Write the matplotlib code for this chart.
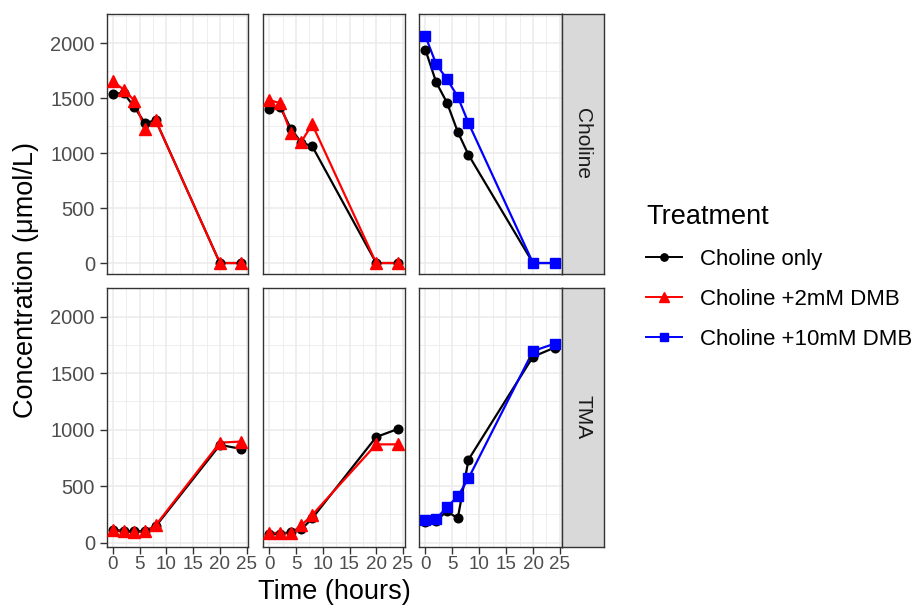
import matplotlib
matplotlib.use("Agg")
import matplotlib.pyplot as plt
from matplotlib.lines import Line2D

plt.rcParams["font.family"] = ["Liberation Sans", "DejaVu Sans"]

# sampling times (hours)
times = [0, 2, 4, 6, 8, 20, 24]
row_names = ["Choline", "TMA"]
treatments = ["Choline only", "Choline +2mM DMB", "Choline +10mM DMB"]

# Choline row, one list per panel (left -> right)
chol_only_choline = [
    [1540, 1550, 1420, 1275, 1300, 0, 0],
    [1405, 1420, 1225, 1095, 1065, 0, 0],
    [1940, 1645, 1460, 1195, 985, 0, 0],
]
dmb2_choline = [
    [1655, 1580, 1480, 1220, 1300, 0, 0],
    [1485, 1455, 1180, 1105, 1265, 0, 0],
]
dmb10_choline = [2065, 1810, 1675, 1515, 1275, 0, 0]

# TMA row
chol_only_tma = [
    [115, 105, 100, 105, 145, 865, 830],
    [80, 78, 95, 120, 215, 935, 1005],
    [185, 195, 280, 215, 735, 1645, 1725],
]
dmb2_tma = [
    [110, 100, 95, 100, 155, 885, 895],
    [88, 85, 82, 155, 245, 870, 870],
]
dmb10_tma = [200, 212, 315, 410, 570, 1695, 1760]

colors = {"Choline only": "black", "Choline +2mM DMB": "#FF0000",
          "Choline +10mM DMB": "#0000FF"}
markers = {"Choline only": ("o", 6.2), "Choline +2mM DMB": ("^", 8.5),
           "Choline +10mM DMB": ("s", 6.5)}

# panel contents: (row, col) -> {treatment: values}
panels = {}
for c in range(3):
    panels[(0, c)] = {"Choline only": chol_only_choline[c]}
    panels[(1, c)] = {"Choline only": chol_only_tma[c]}
for c in range(2):
    panels[(0, c)]["Choline +2mM DMB"] = dmb2_choline[c]
    panels[(1, c)]["Choline +2mM DMB"] = dmb2_tma[c]
panels[(0, 2)]["Choline +10mM DMB"] = dmb10_choline
panels[(1, 2)]["Choline +10mM DMB"] = dmb10_tma

W, H = 917, 609
fig = plt.figure(figsize=(W / 100, H / 100), dpi=100)

def rect(x0, y0, x1, y1):
    return [x0 / W, 1 - y1 / H, (x1 - x0) / W, (y1 - y0) / H]

col_x = [(106.7, 248.3), (263.3, 404.5), (419.3, 561.5)]
row_y = [(14, 274), (288.3, 546.7)]
strip_x = (561.5, 604.3)
ylims = [(-100, 2268), (-35, 2027)]

border = "#333333"
grid = "#EBEBEB"
tickc = "#4D4D4D"

for r in range(2):
    for c in range(3):
        ax = fig.add_axes(rect(col_x[c][0], row_y[r][0], col_x[c][1], row_y[r][1]))
        for name in treatments:
            if name not in panels[(r, c)]:
                continue
            vals = panels[(r, c)][name]
            m, ms = markers[name]
            ax.plot(times, vals, color=colors[name], lw=1.6, zorder=3)
            ax.plot(times, vals, ls="none", marker=m, ms=ms,
                    color=colors[name], zorder=4)
        ax.set_xlim(-1.15, 25.3)
        ax.set_ylim(*ylims[r])
        ax.set_xticks([0, 5, 10, 15, 20, 25])
        ax.set_xticks([2.5, 7.5, 12.5, 17.5, 22.5], minor=True)
        ax.set_yticks([0, 500, 1000, 1500, 2000])
        ax.set_yticks([250, 750, 1250, 1750, 2250], minor=True)
        ax.grid(True, which="major", color=grid, lw=1.1, zorder=0)
        ax.grid(True, which="minor", color=grid, lw=0.6, zorder=0)
        ax.set_axisbelow(True)
        for s in ax.spines.values():
            s.set_color(border)
            s.set_linewidth(1.0)
        ax.tick_params(which="minor", length=0)
        ax.tick_params(which="major", length=5, width=1.0, color=border,
                       labelcolor=tickc)
        ax.tick_params(axis="y", labelsize=14.5, pad=3.5)
        ax.tick_params(axis="x", labelsize=13.5, pad=2)
        if c > 0:
            ax.tick_params(axis="y", length=0, labelleft=False)
        if r == 0:
            ax.tick_params(axis="x", length=0, labelbottom=False)

    # facet strip on the right
    sax = fig.add_axes(rect(strip_x[0], row_y[r][0], strip_x[1], row_y[r][1]))
    sax.set_facecolor("#D9D9D9")
    sax.set_xticks([])
    sax.set_yticks([])
    for s in sax.spines.values():
        s.set_color(border)
        s.set_linewidth(1.0)
    sax.text(0.5, 0.5, row_names[r], rotation=270, ha="center", va="center",
             fontsize=15, color="#1A1A1A", transform=sax.transAxes)

fig.text(26 / W, 1 - 280 / H, "Concentration (\u03bcmol/L)", rotation=90,
         ha="center", va="center", fontsize=19.5)
fig.text(334 / W, 1 - 592 / H, "Time (hours)", ha="center", va="center",
         fontsize=19.5)

handles = [Line2D([], [], color=colors[n], lw=1.4, marker=markers[n][0],
                  ms=markers[n][1] * 0.85) for n in treatments]
leg = fig.legend(handles, treatments, loc="upper left",
                 bbox_to_anchor=(646 / W, 1 - 204 / H), frameon=False,
                 fontsize=16, title="Treatment", title_fontsize=19.5,
                 handlelength=1.6, handletextpad=0.85, labelspacing=0.85,
                 borderpad=0, borderaxespad=0)
leg._legend_box.align = "left"

fig.savefig("out.png", dpi=100)
plt.close(fig)
